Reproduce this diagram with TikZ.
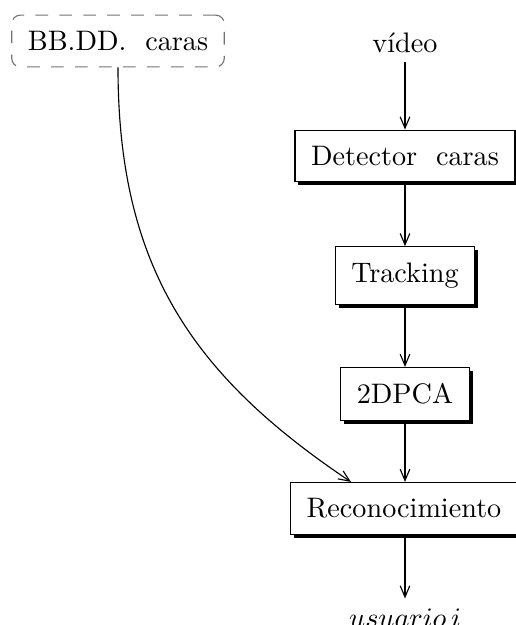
\documentclass[tikz,border=0pt]{standalone}
\usepackage{fontspec}
\usetikzlibrary{arrows.meta,shadows,calc}
\begin{document}
\begin{tikzpicture}[x=0.3546pt,y=-0.3546pt,
  block/.style={draw, fill=white, inner sep=5.7pt, line width=0.4pt,
    drop shadow={opacity=1, fill=black, shadow xshift=1.2pt, shadow yshift=-1.2pt}},
  store/.style={draw=black!55, dash pattern=on 4.5pt off 4pt, rounded corners=3pt,
    inner sep=5.7pt, line width=0.4pt},
  flow/.style={-{Straight Barb[length=4pt,width=3.4pt]}, line width=0.4pt},
  plain/.style={inner sep=3.33pt}]
\useasboundingbox (0,0) rectangle (516,625);

% face database and input
\node[store] (bd) at (118,41) {BB.DD.\ \ caras};
\node[plain, anchor=base] (vid) at (405,52) {vídeo};

% processing chain
\node[block] (det) at (405,156) {Detector\ \ caras};
\node[block] (trk) at (405,275.5) {Tracking};
\node[block] (pca) at (405,394) {2DPCA};
\node[block] (rec) at (404,508.5) {Reconocimiento};
\node[plain, anchor=base] (usr) at (405,627) {$usuario\,i$};

% connectors
\draw[flow] (vid) -- (det);
\draw[flow] (det) -- (trk);
\draw[flow] (trk) -- (pca);
\draw[flow] (pca) -- (pca |- rec.north);
\draw[flow] (rec.south -| pca) -- (usr);
\draw[flow] (bd.south) .. controls +(0,200) and +(-158,-106) .. ($(rec.north)+(-53,0)$);
\end{tikzpicture}
\end{document}
